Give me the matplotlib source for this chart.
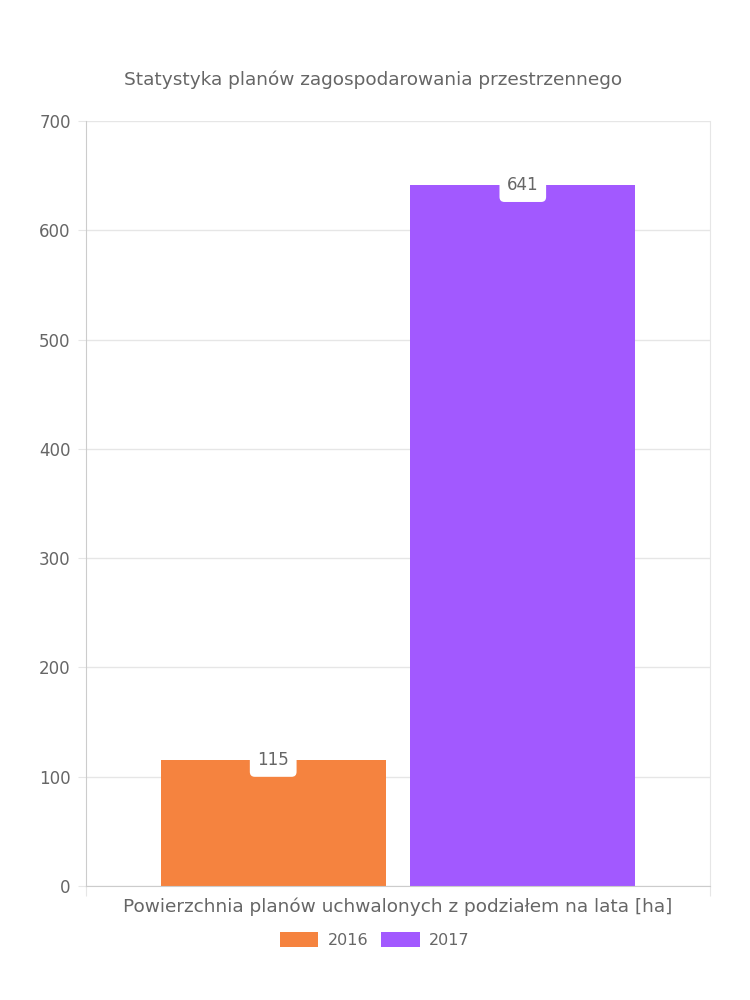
import matplotlib
matplotlib.use("Agg")
import matplotlib.pyplot as plt
from matplotlib.patches import Patch

# data
title = "Statystyka planów zagospodarowania przestrzennego"
xlabel = "Powierzchnia planów uchwalonych z podziałem na lata [ha]"
years = ["2016", "2017"]
values = [115, 641]
colors = ["#F5833F", "#A259FF"]
yticks = [0, 100, 200, 300, 400, 500, 600, 700]

txt = "#666666"
grid = "#e6e6e6"
plt.rcParams["font.family"] = ["DejaVu Sans"]

fig = plt.figure(figsize=(7.5, 10), dpi=100)
ax = fig.add_axes([86 / 750, 1 - 886 / 1000, 624 / 750, 765 / 1000])

offsets = [-0.2, 0.2]
for off, v, c in zip(offsets, values, colors):
    ax.bar(off, v, width=0.36, color=c, zorder=2)
    ax.text(off, v, str(v), ha="center", va="center", fontsize=12, color=txt, zorder=4,
            bbox=dict(boxstyle="round,pad=0.45,rounding_size=0.3", fc="white", ec="none"))

ax.set_xlim(-0.5, 0.5)
ax.set_ylim(0, 700)
ax.set_yticks(yticks)
ax.set_xticks([-0.5, 0.5])
ax.set_xticklabels([])
ax.grid(axis="y", color=grid, linewidth=1, zorder=0)
ax.tick_params(axis="y", length=6, color=grid, labelsize=12, labelcolor=txt, pad=5)
ax.tick_params(axis="x", length=7, color=grid)
ax.spines["top"].set_visible(False)
ax.spines["left"].set_color("#cccccc")
ax.spines["bottom"].set_color("#cccccc")
ax.spines["right"].set_color(grid)

ax.set_xlabel(xlabel, fontsize=13.3, color=txt, labelpad=-2)
fig.text(373 / 750, 1 - 80 / 1000, title, ha="center", va="center", fontsize=13.3, color=txt)

handles = [Patch(facecolor=c, edgecolor="none") for c in colors]
fig.legend(handles, years, loc="center", bbox_to_anchor=(375 / 750, 1 - 940 / 1000), ncol=2,
           frameon=False, fontsize=11.5, labelcolor=txt, handlelength=2.4, handleheight=1.1,
           handletextpad=0.6, columnspacing=0.8)

fig.savefig("out.png", dpi=100, facecolor="white")
